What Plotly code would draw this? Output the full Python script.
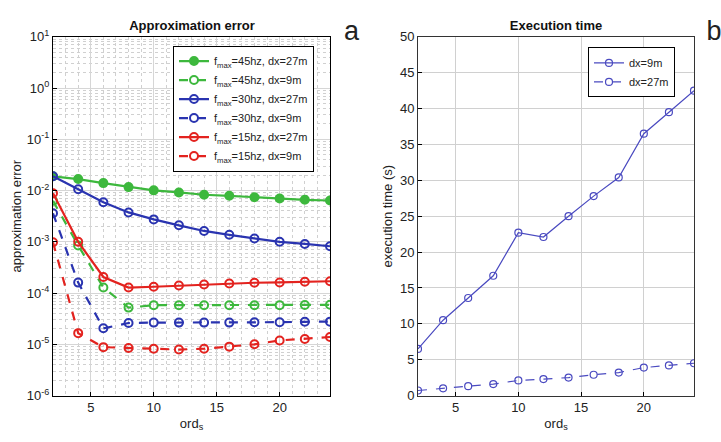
import plotly.graph_objects as go

ords = [2, 4, 6, 8, 10, 12, 14, 16, 18, 20, 22, 24]

err_45_27 = [0.019, 0.0168, 0.014, 0.0117, 0.0101, 0.0092, 0.0083, 0.0079, 0.0074, 0.0070, 0.0066, 0.0064]
err_45_9 = [0.0063, 0.00085, 0.000128, 5.2e-5, 5.8e-5, 5.8e-5, 5.8e-5, 5.8e-5, 5.8e-5, 5.8e-5, 5.85e-5, 5.9e-5]
err_30_27 = [0.019, 0.0106, 0.0059, 0.00375, 0.00274, 0.0021, 0.00163, 0.00137, 0.00116, 0.0010, 0.00091, 0.00082]
err_30_9 = [0.0036, 0.00016, 2.05e-5, 2.6e-5, 2.65e-5, 2.65e-5, 2.65e-5, 2.65e-5, 2.7e-5, 2.7e-5, 2.75e-5, 2.77e-5]
err_15_27 = [0.0089, 0.0010, 0.000206, 0.000128, 0.000133, 0.00014, 0.000147, 0.000154, 0.000159, 0.000161, 0.000166, 0.00017]
err_15_9 = [0.00098, 1.65e-5, 8.8e-6, 8.5e-6, 8.2e-6, 7.9e-6, 8.2e-6, 9.0e-6, 1.0e-5, 1.19e-5, 1.27e-5, 1.39e-5]

time_9 = [6.5, 10.5, 13.6, 16.7, 22.7, 22.1, 25.0, 27.8, 30.4, 36.5, 39.5, 42.5]
time_27 = [0.7, 1.0, 1.3, 1.6, 2.1, 2.3, 2.5, 2.9, 3.2, 3.9, 4.2, 4.5]

exponents = [-6, -5, -4, -3, -2, -1, 0, 1]
log_tickvals = [10.0 ** e for e in exponents]
log_ticktext = ["10<sup>%d</sup>" % e for e in exponents]
log_minorvals = [k * 10.0 ** e for e in exponents[:-1] for k in range(2, 10)]

GREEN = "#3db83d"
BLUE = "#2a34b0"
RED = "#e3231f"
BLUE2 = "#4a4ac0"

FONT = "Liberation Sans, Arial, sans-serif"

fig = go.Figure()

series = [
    ("f<sub>max</sub>=45hz, dx=27m", err_45_27, GREEN, "solid", "circle"),
    ("f<sub>max</sub>=45hz, dx=9m", err_45_9, GREEN, "dash", "circle-open"),
    ("f<sub>max</sub>=30hz, dx=27m", err_30_27, BLUE, "solid", "circle-open"),
    ("f<sub>max</sub>=30hz, dx=9m", err_30_9, BLUE, "dash", "circle-open"),
    ("f<sub>max</sub>=15hz, dx=27m", err_15_27, RED, "solid", "circle-open"),
    ("f<sub>max</sub>=15hz, dx=9m", err_15_9, RED, "dash", "circle-open"),
]
for name, vals, col, dash, sym in series:
    fig.add_trace(go.Scatter(
        x=ords, y=vals, name=name, mode="lines+markers",
        line=dict(color=col, width=2.2, dash=dash),
        marker=dict(symbol=sym, size=8, color=col, line=dict(color=col, width=2)),
        xaxis="x", yaxis="y", legend="legend",
    ))

fig.add_trace(go.Scatter(
    x=ords, y=time_9, name="dx=9m", mode="lines+markers",
    line=dict(color=BLUE2, width=1.2),
    marker=dict(symbol="circle-open", size=7, color=BLUE2, line=dict(color=BLUE2, width=1.2)),
    xaxis="x2", yaxis="y2", legend="legend2",
))
fig.add_trace(go.Scatter(
    x=ords, y=time_27, name="dx=27m", mode="lines+markers",
    line=dict(color=BLUE2, width=1.2, dash="dash"),
    marker=dict(symbol="circle-open", size=7, color=BLUE2, line=dict(color=BLUE2, width=1.2)),
    xaxis="x2", yaxis="y2", legend="legend2",
))

ydom = [1 - 402 / 442, 1 - 29 / 442]

fig.update_layout(
    width=721, height=442,
    margin=dict(l=0, r=0, t=0, b=0),
    paper_bgcolor="white", plot_bgcolor="white",
    font=dict(family=FONT, size=12, color="#222"),
    showlegend=True,
    xaxis=dict(
        domain=[53 / 721, 330 / 721], range=[2, 24],
        tickvals=[5, 10, 15, 20], ticks="inside", ticklen=4, tickcolor="black",
        showgrid=True, gridcolor="#d6d6d6", gridwidth=1,
        minor=dict(dtick=1, showgrid=True, griddash="dot", gridcolor="#d0d0d0", ticks=""),
        showline=True, linecolor="black", mirror=True, zeroline=False,
        title=dict(text="ord<sub>s</sub>", standoff=4, font=dict(size=13)),
        tickfont=dict(size=13),
    ),
    yaxis=dict(
        domain=ydom, type="log", range=[-6, 1],
        tickvals=log_tickvals, ticktext=log_ticktext,
        ticks="inside", ticklen=4, tickcolor="black",
        showgrid=True, gridcolor="#d6d6d6", gridwidth=1,
        minor=dict(tickmode="array", tickvals=log_minorvals, showgrid=True,
                   griddash="dot", gridcolor="#d0d0d0", ticks=""),
        showline=True, linecolor="black", mirror=True, zeroline=False,
        title=dict(text="approximation error", standoff=2, font=dict(size=13)),
        tickfont=dict(size=13),
    ),
    xaxis2=dict(
        domain=[418 / 721, 694 / 721], range=[2, 24], anchor="y2",
        tickvals=[5, 10, 15, 20], ticks="inside", ticklen=4, tickcolor="black",
        showgrid=True, gridcolor="#d0d0d0", gridwidth=1,
        showline=True, linecolor="#333", mirror=True, zeroline=False,
        title=dict(text="ord<sub>s</sub>", standoff=4, font=dict(size=13)),
        tickfont=dict(size=13),
    ),
    yaxis2=dict(
        domain=ydom, range=[0, 50], dtick=5, anchor="x2",
        ticks="inside", ticklen=4, tickcolor="black",
        showgrid=True, gridcolor="#d0d0d0", gridwidth=1,
        showline=True, linecolor="#333", mirror=True, zeroline=False,
        title=dict(text="execution time (s)", standoff=4, font=dict(size=13)),
        tickfont=dict(size=13),
    ),
    legend=dict(
        x=173 / 721, y=1 - 38 / 442, xanchor="left", yanchor="top",
        bgcolor="white", bordercolor="black", borderwidth=1,
        font=dict(size=11, color="#222"), tracegroupgap=0, itemwidth=30,
    ),
    legend2=dict(
        x=588 / 721, y=1 - 40 / 442, xanchor="left", yanchor="top",
        bgcolor="white", bordercolor="black", borderwidth=1,
        font=dict(size=11, color="#222"), itemwidth=30,
    ),
    annotations=[
        dict(text="<b>Approximation error</b>", x=(53 + 330) / 2 / 721, y=1 - 17 / 442,
             xref="paper", yref="paper", xanchor="center", yanchor="middle",
             width=220, align="center", showarrow=False, font=dict(size=13, color="#111")),
        dict(text="<b>Execution time</b>", x=(418 + 694) / 2 / 721, y=1 - 17 / 442,
             xref="paper", yref="paper", xanchor="center", yanchor="middle",
             width=220, align="center", showarrow=False, font=dict(size=13, color="#111")),
        dict(text="a", x=352 / 721, y=1 - 23 / 442, xref="paper", yref="paper",
             xanchor="center", yanchor="middle", width=30, align="center",
             showarrow=False, font=dict(size=27)),
        dict(text="b", x=714 / 721, y=1 - 23 / 442, xref="paper", yref="paper",
             xanchor="center", yanchor="middle", width=20, align="center",
             showarrow=False, font=dict(size=27)),
    ],
)

fig.write_html("out.html")
